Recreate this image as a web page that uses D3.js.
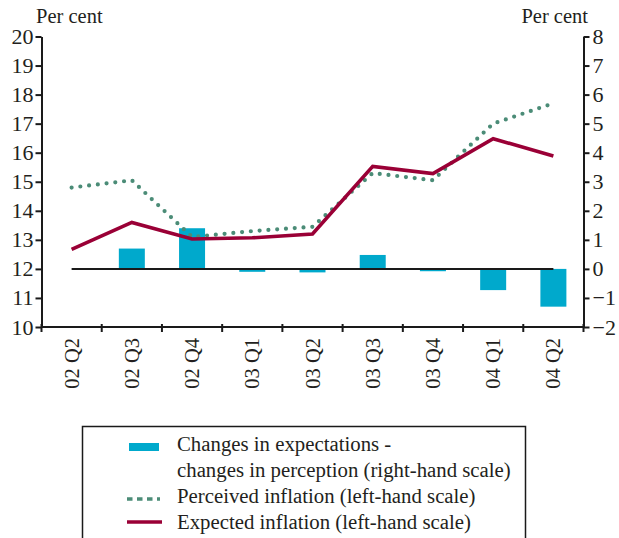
<!DOCTYPE html>
<html>
<head>
<meta charset="utf-8">
<script src="https://cdn.jsdelivr.net/npm/d3@7/dist/d3.min.js"></script>
<style>
  html, body { margin: 0; padding: 0; background: #fff; }
  svg { display: block; font-family: "Liberation Serif", "DejaVu Serif", serif; }
</style>
</head>
<body>
<svg id="chart" width="619" height="538"></svg>
<script>
// Quarters on the x axis
const quarters = ["02 Q2", "02 Q3", "02 Q4", "03 Q1", "03 Q2", "03 Q3", "03 Q4", "04 Q1", "04 Q2"];
// Perceived inflation, per cent (left-hand scale)
const perceived = [14.8, 15.05, 13.1, 13.3, 13.45, 15.3, 15.05, 17.0, 17.7];
// Expected inflation, per cent (left-hand scale)
const expected = [12.67, 13.6, 13.03, 13.07, 13.2, 15.53, 15.28, 16.48, 15.89];
// Changes in expectations - changes in perception (right-hand scale)
const gap = [0, 0.7, 1.4, -0.1, -0.12, 0.48, -0.08, -0.73, -1.3];
// Axis ticks
const leftTicks = [10, 11, 12, 13, 14, 15, 16, 17, 18, 19, 20];
const rightTicks = [-2, -1, 0, 1, 2, 3, 4, 5, 6, 7, 8];

const svg = d3.select("#chart");
const plotLeft = 41.5, plotRight = 583.5, plotTop = 36.5, plotBottom = 327;

const x = d3.scaleBand().domain(quarters).range([plotLeft, plotRight]).paddingInner(0).paddingOuter(0);
const yL = d3.scaleLinear().domain([10, 20]).range([plotBottom, plotTop]);
const yR = d3.scaleLinear().domain([-2, 8]).range([plotBottom, plotTop]);
const cx = d => x(d) + x.bandwidth() / 2;

const blue = "#00a9cc", green = "#4b8c77", red = "#9a0036", ink = "#231f20";

// Bars
const barW = 26;
svg.append("g").selectAll("rect").data(quarters).join("rect")
  .attr("x", (d) => cx(d) - barW / 2)
  .attr("y", (d, i) => Math.min(yR(gap[i]), yR(0)))
  .attr("width", barW)
  .attr("height", (d, i) => Math.abs(yR(gap[i]) - yR(0)))
  .attr("fill", blue);

// Zero line for the bars
svg.append("line")
  .attr("x1", cx(quarters[0])).attr("x2", cx(quarters[quarters.length - 1]))
  .attr("y1", yR(0)).attr("y2", yR(0))
  .attr("stroke", "#1a1a1a").attr("stroke-width", 2);

// Lines
const line = (vals) => d3.line().x((d, i) => cx(quarters[i])).y(d => yL(d))(vals);
svg.append("path").attr("d", line(perceived))
  .attr("fill", "none").attr("stroke", green).attr("stroke-width", 4.2)
  .attr("stroke-linecap", "round").attr("stroke-dasharray", "0 8.8");
svg.append("path").attr("d", line(expected))
  .attr("fill", "none").attr("stroke", red).attr("stroke-width", 3.6)
  .attr("stroke-linejoin", "miter");

// Axes
const axisStyle = g => {
  g.selectAll(".domain").attr("stroke", "#1a1a1a").attr("stroke-width", 2);
  g.selectAll(".tick line").attr("stroke", "#1a1a1a").attr("stroke-width", 2);
  g.selectAll(".tick text").attr("fill", ink).attr("font-size", 22)
    .attr("font-family", "Liberation Serif, serif");
};

svg.append("g").attr("transform", `translate(${plotLeft},0)`)
  .call(d3.axisLeft(yL).tickValues(leftTicks).tickSize(6).tickSizeOuter(0).tickPadding(2))
  .call(axisStyle);

svg.append("g").attr("transform", `translate(${plotRight},0)`)
  .call(d3.axisRight(yR).tickValues(rightTicks).tickSize(6).tickSizeOuter(0).tickPadding(3)
    .tickFormat(d => d < 0 ? "\u2212" + Math.abs(d) : d))
  .call(axisStyle);

// Bottom axis: ticks at the band boundaries
const bx = svg.append("g").attr("transform", `translate(0,${plotBottom})`);
bx.append("line").attr("x1", plotLeft).attr("x2", plotRight).attr("y1", 0).attr("y2", 0)
  .attr("stroke", "#1a1a1a").attr("stroke-width", 2);
const bounds = quarters.map(q => x(q)).concat([plotRight]);
bx.selectAll("line.tk").data(bounds).join("line").attr("class", "tk")
  .attr("x1", d => d).attr("x2", d => d).attr("y1", -3).attr("y2", 5)
  .attr("stroke", "#1a1a1a").attr("stroke-width", 2);
bx.selectAll("text").data(quarters).join("text")
  .attr("transform", d => `translate(${cx(d) + 7},11) rotate(-90)`)
  .attr("text-anchor", "end")
  .attr("font-size", 20.5).attr("fill", ink)
  .text(d => d);

// Unit labels
svg.append("text").attr("x", 36).attr("y", 23).attr("font-size", 20.5).attr("fill", ink).text("Per cent");
svg.append("text").attr("x", 588).attr("y", 23).attr("text-anchor", "end").attr("font-size", 20.5).attr("fill", ink).text("Per cent");

// Legend
const lg = svg.append("g");
lg.append("path").attr("d", "M82.5,540 V426.5 H525.5 V540")
  .attr("fill", "none").attr("stroke", "#1a1a1a").attr("stroke-width", 1.5);
lg.append("rect").attr("x", 129).attr("y", 443).attr("width", 30).attr("height", 8).attr("fill", blue);
lg.append("line").attr("x1", 127).attr("x2", 160).attr("y1", 499).attr("y2", 499)
  .attr("stroke", green).attr("stroke-width", 3.5).attr("stroke-dasharray", "5.5 4.5");
lg.append("line").attr("x1", 127).attr("x2", 162).attr("y1", 522).attr("y2", 522)
  .attr("stroke", red).attr("stroke-width", 3.6);
const legendText = [
  ["Changes in expectations -", 451],
  ["changes in perception (right-hand scale)", 477],
  ["Perceived inflation (left-hand scale)", 503],
  ["Expected inflation (left-hand scale)", 529]
];
lg.selectAll("text").data(legendText).join("text")
  .attr("x", 177).attr("y", d => d[1]).attr("font-size", 20.8).attr("fill", ink)
  .text(d => d[0]);
</script>
</body>
</html>
